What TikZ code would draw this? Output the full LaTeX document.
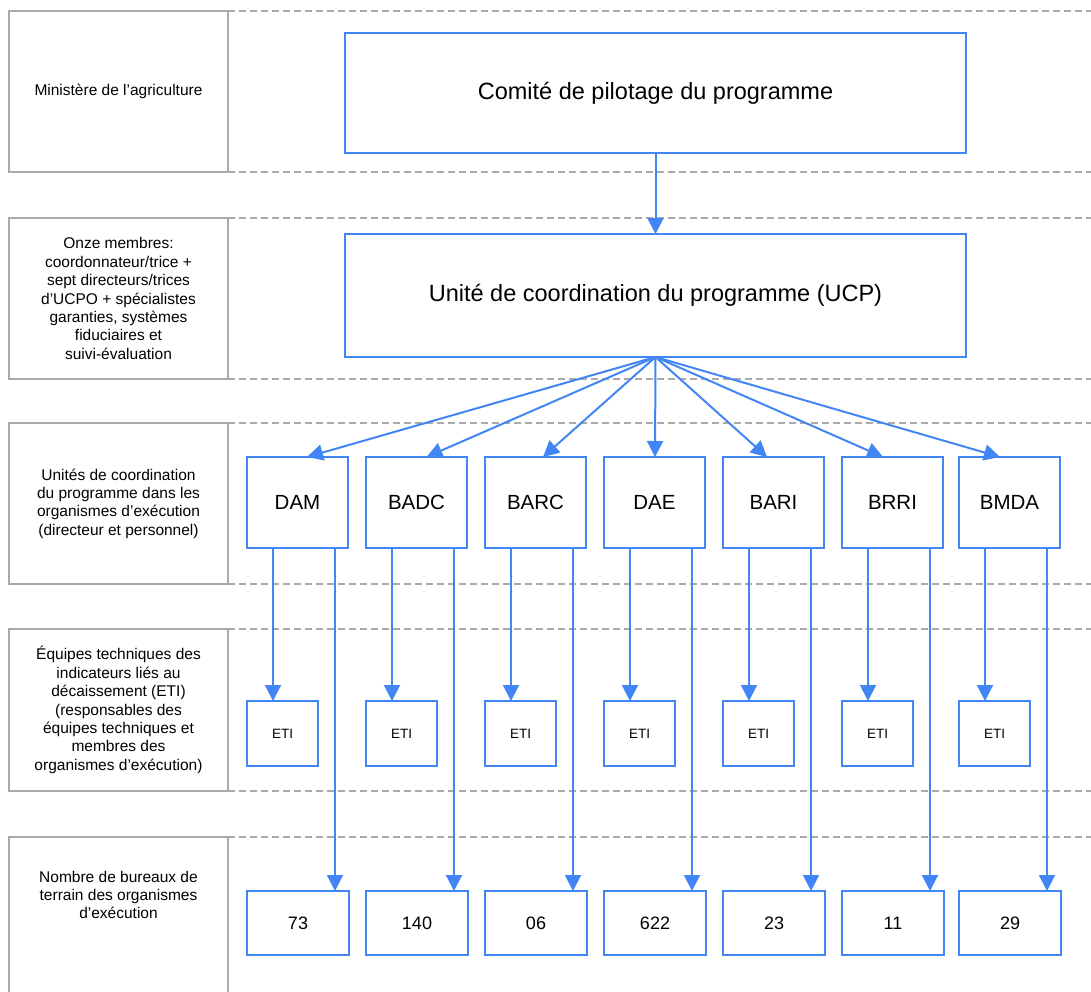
\documentclass[tikz,border=0pt]{standalone}
\usepackage{fontspec}
\setmainfont{Liberation Sans}
\usetikzlibrary{arrows.meta,calc}
\definecolor{gblue}{RGB}{66,133,244}
\definecolor{lgray}{RGB}{170,170,170}
\tikzset{
  bluebox/.style={draw=gblue,line width=2pt,rectangle,inner sep=0pt,outer sep=0pt,align=center},
  bigbox/.style={bluebox,minimum width=621pt,font=\fontsize{23.5}{28}\selectfont},
  midbox/.style={bluebox,minimum width=101pt,minimum height=91pt,font=\fontsize{20.5}{24}\selectfont},
  etibox/.style={bluebox,minimum width=71pt,minimum height=65pt,font=\fontsize{13.5}{16}\selectfont},
  numbox/.style={bluebox,minimum width=102pt,minimum height=64pt,font=\fontsize{18}{21}\selectfont},
  lbox/.style={draw=lgray,line width=2pt,rectangle,inner sep=0pt,outer sep=0pt,minimum width=219pt,align=center,font=\fontsize{15.5}{18.4}\selectfont},
  ltext/.style={inner sep=0pt,align=center,font=\fontsize{15.5}{18.4}\selectfont},
  rowline/.style={draw=lgray,line width=2pt,dash pattern=on 7pt off 4pt},
  arr/.style={draw=gblue,line width=2pt,-{Triangle[length=16pt,width=16pt]}}
}
\begin{document}
\begin{tikzpicture}[x=1pt,y=-1pt]
\useasboundingbox (0,0) rectangle (1091,991);
\coordinate (R) at (1091,0);
% left labels
\node[lbox,minimum height=161pt] (L1) at (118.5,91.5) {Ministère de l’agriculture};
\node[lbox,minimum height=161pt] (L2) at (118.5,298.5) {Onze membres:\\coordonnateur/trice +\\sept directeurs/trices\\d’UCPO + spécialistes\\garanties, systèmes\\fiduciaires et\\suivi-évaluation};
\node[lbox,minimum height=161pt] (L3) at (118.5,503.5) {Unités de coordination\\du programme dans les\\organismes d’exécution\\(directeur et personnel)};
\node[lbox,minimum height=162pt] (L4) at (118.5,710) {Équipes techniques des\\indicateurs liés au\\décaissement (ETI)\\(responsables des\\équipes techniques et\\membres des\\organismes d’exécution)};
\node[ltext] (L5) at (118.5,895) {Nombre de bureaux de\\terrain des organismes\\d’exécution};
\coordinate (L5nw) at (9,837);
\coordinate (L5ne) at (228,837);
\draw[draw=lgray,line width=2pt] ($(L5nw)+(0,170)$) -- (L5nw) -- (L5ne) -- ($(L5ne)+(0,170)$);
% dashed row lines
\foreach \n in {L1,L2,L3,L4}{
  \draw[rowline] (\n.north east) -- (\n.north east -| R);
  \draw[rowline] (\n.south east) -- (\n.south east -| R);
}
\draw[rowline] (L5ne) -- (L5ne -| R);
% top boxes
\node[bigbox,minimum height=120pt] (CP) at (655.5,93) {Comité de pilotage du programme};
\node[bigbox,minimum height=123pt] (UCP) at (655.5,295.5) {Unité de coordination du programme (UCP)};
\draw[arr] (CP.south) -- (UCP.north);
% middle, ETI and number boxes
\foreach \i/\x/\lab/\num/\off in {1/297.5/DAM/73/9.5,2/416.5/BADC/140/10,3/535.5/BARC/06/7.5,4/654.5/DAE/622/0.5,5/773.5/BARI/23/-6.5,6/892.5/BRRI/11/-9.5,7/1009.5/BMDA/29/-9.5}{
  \node[midbox] (M\i) at (\x,502.5) {\lab};
  \node[etibox] (E\i) at (\x-15,733.5) {ETI};
  \node[numbox] (N\i) at (\x+0.5,923) {\num};
  \draw[arr] (UCP.south) -- ([xshift=\off pt]M\i.north);
  \draw[arr] ([xshift=-9.5pt]E\i.north |- M\i.south) -- ([xshift=-9.5pt]E\i.north);
  \draw[arr] ([xshift=37.5pt]M\i.south) -- ([xshift=37.5pt]M\i.south |- N\i.north);
}
\end{tikzpicture}
\end{document}
